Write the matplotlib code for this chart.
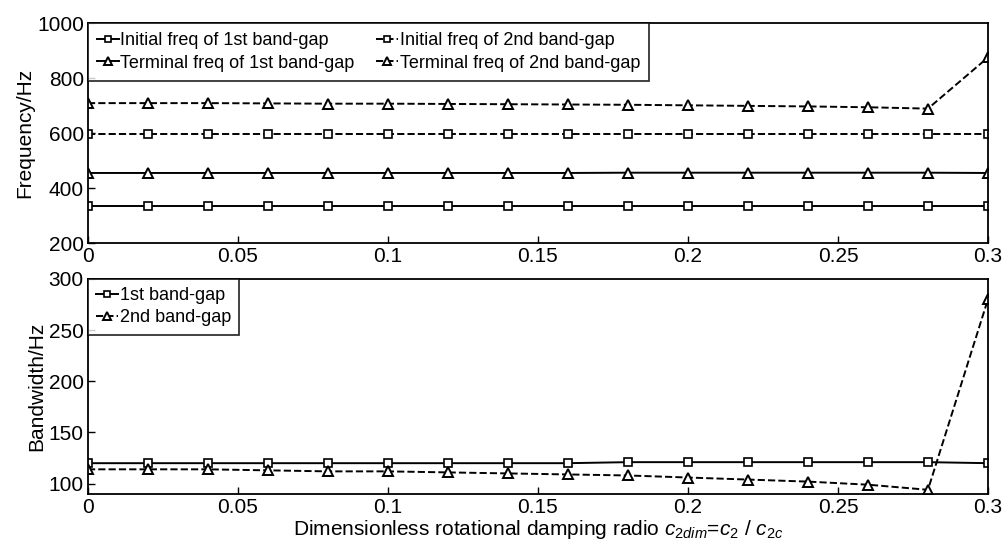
import numpy as np
import matplotlib
matplotlib.use('Agg')
import matplotlib.pyplot as plt

plt.rcParams['font.family'] = ['Liberation Sans', 'DejaVu Sans']
plt.rcParams['mathtext.fontset'] = 'custom'
plt.rcParams['mathtext.rm'] = 'Liberation Sans'
plt.rcParams['mathtext.it'] = 'Liberation Sans:italic'

# damping ratio samples
c2dim = [0, 0.02, 0.04, 0.06, 0.08, 0.10, 0.12, 0.14,
         0.16, 0.18, 0.20, 0.22, 0.24, 0.26, 0.28, 0.30]

# band-gap edges (Hz)
init1 = [335, 335, 335, 335, 335, 335, 335, 335,
         335, 335, 335, 335, 335, 335, 335, 335]
term1 = [455, 455, 455, 455, 455, 455, 455, 455,
         455, 456, 456, 456, 456, 456, 456, 455]
init2 = [595, 595, 595, 595, 595, 595, 595, 595,
         595, 595, 595, 595, 595, 595, 595, 595]
term2 = [709, 709, 709, 708, 707, 707, 706, 705,
         704, 703, 701, 699, 697, 694, 689, 875]

xticks = [0, 0.05, 0.1, 0.15, 0.2, 0.25, 0.3]
xticklabels = ['0', '0.05', '0.1', '0.15', '0.2', '0.25', '0.3']

bw1 = np.array(term1) - np.array(init1)
bw2 = np.array(term2) - np.array(init2)

fig = plt.figure(figsize=(10.03, 5.5), dpi=100)
ax1 = fig.add_axes([0.0877, 0.558, 0.8973, 0.400])
ax2 = fig.add_axes([0.0877, 0.102, 0.8973, 0.391])

sq = dict(marker='s', markersize=5.5, markerfacecolor='white',
          markeredgecolor='black', markeredgewidth=1.2, color='black', lw=1.4)
tri = dict(marker='^', markersize=7.5, markerfacecolor='white',
           markeredgecolor='black', markeredgewidth=1.4, color='black', lw=1.4)

ax1.plot(c2dim, init1, '-', label='Initial freq of 1st band-gap', **sq)
ax1.plot(c2dim, term1, '-', label='Terminal freq of 1st band-gap', **tri)
ax1.plot(c2dim, init2, '--', label='Initial freq of 2nd band-gap', **sq)
ax1.plot(c2dim, term2, '--', label='Terminal freq of 2nd band-gap', **tri)

ax2.plot(c2dim, bw1, '-', label='1st band-gap', **sq)
ax2.plot(c2dim, bw2, '--', label='2nd band-gap', **tri)

ax1.set_ylim(200, 1000)
ax1.set_yticks([200, 400, 600, 800, 1000])
ax2.set_ylim(90, 300)
ax2.set_yticks([100, 150, 200, 250, 300])

for ax in (ax1, ax2):
    ax.set_xlim(0, 0.3)
    ax.set_xticks(xticks)
    ax.set_xticklabels(xticklabels)
    ax.tick_params(direction='in', length=5, width=1, labelsize=15,
                   pad=3, top=False, right=False)
    for s in ax.spines.values():
        s.set_linewidth(1.3)

ax1.set_ylabel('Frequency/Hz', fontsize=15, labelpad=2)
ax2.set_ylabel('Bandwidth/Hz', fontsize=15, labelpad=2)
ax2.set_xlabel('Dimensionless rotational damping radio '
               '$c_{2dim}$=$c_2$ / $c_{2c}$', fontsize=15, labelpad=1)

leg1 = ax1.legend(loc='upper left', ncol=2, fontsize=13, frameon=True,
                  fancybox=False, edgecolor='black', borderaxespad=0,
                  handlelength=1.2, handletextpad=0.1, columnspacing=1.2,
                  labelspacing=0.3, borderpad=0.5, markerscale=0.8)
leg1.get_frame().set_linewidth(1.3)
leg2 = ax2.legend(loc='upper left', fontsize=13, frameon=True,
                  fancybox=False, edgecolor='black', borderaxespad=0,
                  handlelength=1.2, handletextpad=0.1,
                  labelspacing=0.3, borderpad=0.45, markerscale=0.8)
leg2.get_frame().set_linewidth(1.3)

fig.savefig('out.png', dpi=100)
